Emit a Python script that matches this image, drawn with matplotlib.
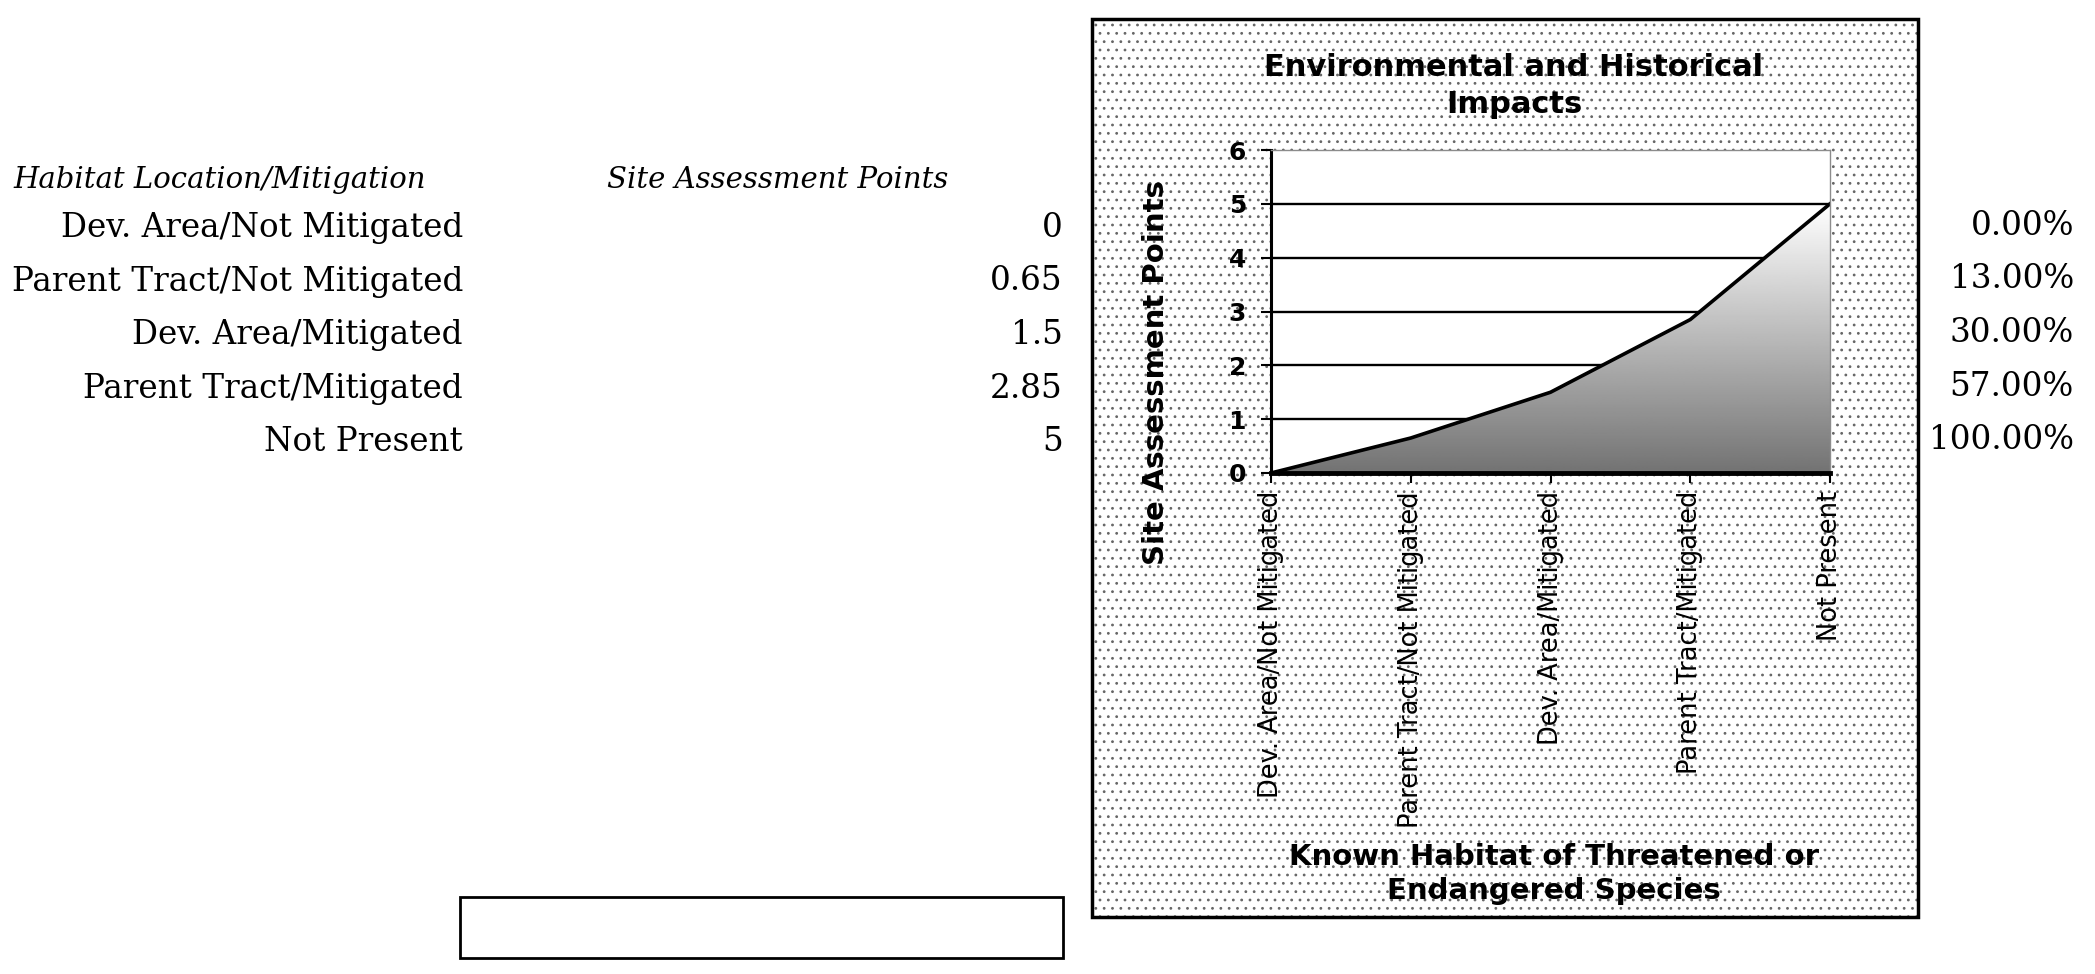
import numpy as np
import matplotlib
matplotlib.use("Agg")
import matplotlib.pyplot as plt
from matplotlib.patches import Rectangle

# データ
categories = ["Dev. Area/Not Mitigated", "Parent Tract/Not Mitigated",
              "Dev. Area/Mitigated", "Parent Tract/Mitigated", "Not Present"]
points = [0, 0.65, 1.5, 2.85, 5]
point_labels = ["0", "0.65", "1.5", "2.85", "5"]
pct_labels = ["0.00%", "13.00%", "30.00%", "57.00%", "100.00%"]
yticks = [0, 1, 2, 3, 4, 5, 6]

W, H = 2095, 974
fig = plt.figure(figsize=(W / 100, H / 100), dpi=100)
fig.patch.set_facecolor("white")


def fx(px):
    return px / W


def fy(py):
    return 1 - py / H


# 左の表
serif = "DejaVu Serif"
fig.text(fx(13), fy(180), "Habitat Location/Mitigation", family=serif,
         style="italic", fontsize=21, va="center", ha="left")
fig.text(fx(607), fy(180), "Site Assessment Points", family=serif,
         style="italic", fontsize=21, va="center", ha="left")
for i, (cat, lab, pct) in enumerate(zip(categories, point_labels, pct_labels)):
    y = 228 + 53.5 * i
    fig.text(fx(463), fy(y), cat, family=serif, fontsize=23.5,
             ha="right", va="center")
    fig.text(fx(1063), fy(y), lab, family=serif, fontsize=23.5,
             ha="right", va="center")
    fig.text(fx(2074), fy(y - 2), pct, family=serif, fontsize=23.5,
             ha="right", va="center")

# 空の枠
fig.patches.append(Rectangle((fx(460), fy(958)), fx(1063) - fx(460),
                             fy(897) - fy(958), transform=fig.transFigure,
                             facecolor="white", edgecolor="black", lw=2))

# グラフの枠（点描の背景）
plt.rcParams["hatch.linewidth"] = 0.8
frame = (fx(1092), fy(917), fx(1918) - fx(1092), fy(19) - fy(917))
fig.patches.append(Rectangle(frame[:2], frame[2], frame[3],
                             transform=fig.transFigure, facecolor="white",
                             edgecolor="none", zorder=0))
fig.patches.append(Rectangle(frame[:2], frame[2], frame[3],
                             transform=fig.transFigure, facecolor="none",
                             edgecolor="#666666", hatch="..", lw=0, zorder=0))
fig.patches.append(Rectangle(frame[:2], frame[2], frame[3],
                             transform=fig.transFigure, facecolor="none",
                             edgecolor="black", lw=2.5, zorder=1))

ax = fig.add_axes([fx(1271), fy(473), fx(1830) - fx(1271), fy(150) - fy(473)])
ax.set_zorder(5)
ax.set_facecolor("white")
x = np.arange(len(categories))

for yv in yticks[1:-1]:
    ax.axhline(yv, color="black", lw=1.7, zorder=1)

# グラデーション塗り
poly = ax.fill_between(x, points, 0, facecolor="none", edgecolor="none", zorder=2)
grad = np.linspace(0.45, 1.0, 256).reshape(-1, 1)
im = ax.imshow(grad, cmap="gray", vmin=0, vmax=1, origin="lower",
               extent=[x[0], x[-1], 0, max(points)], aspect="auto", zorder=2)
im.set_clip_path(poly.get_paths()[0], transform=ax.transData)
ax.plot(x, points, color="black", lw=2.6, zorder=3)
ax.set_xlim(x[0], x[-1])
ax.set_ylim(0, 6)

ax.spines["left"].set_linewidth(2.2)
ax.spines["bottom"].set_linewidth(3.5)
ax.spines["top"].set_color("#8c8c8c")
ax.spines["top"].set_linewidth(1)
ax.spines["right"].set_color("#8c8c8c")
ax.spines["right"].set_linewidth(1)
for s in ax.spines.values():
    s.set_zorder(4)

ax.set_yticks(yticks)
ax.set_yticklabels([str(v) for v in yticks], fontsize=18, fontweight="bold")
ax.tick_params(axis="y", length=7, width=1.5, pad=11)
ax.set_xticks(x)
ax.set_xticklabels(categories, rotation=90, fontsize=18.5, va="top", ha="center")
ax.tick_params(axis="x", length=7, width=1.5, pad=6)

fig.text(fx(1156), fy(373), "Site Assessment Points", fontsize=21,
         fontweight="bold", rotation=90, ha="center", va="center")
fig.text(fx(1514), fy(86), "Environmental and Historical\nImpacts", fontsize=22,
         fontweight="bold", ha="center", va="center", linespacing=1.35)
fig.text(fx(1554), fy(874), "Known Habitat of Threatened or\nEndangered Species",
         fontsize=21, fontweight="bold", ha="center", va="center", linespacing=1.25)

fig.savefig("out.png", dpi=100)
